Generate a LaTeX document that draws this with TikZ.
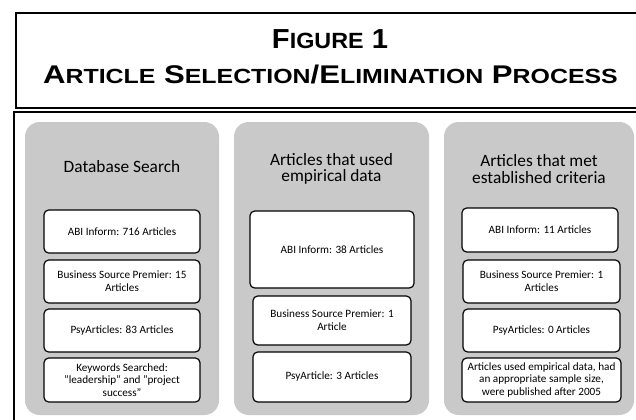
\documentclass[tikz,border=0pt]{standalone}
\usepackage{fontspec}
\usepackage{graphicx}
\setmainfont{Carlito}
\newfontfamily\ttlfont{Liberation Sans}
\definecolor{panelgray}{RGB}{201,201,201}
\newcommand\bigC[1]{{\fontsize{20}{24}\selectfont #1}}
\newcommand\smC[1]{{\fontsize{16}{19}\selectfont #1}}
\tikzset{
  panel/.style={fill=panelgray, draw=none, rounded corners=11pt, inner sep=0pt},
  boxst/.style={draw=black, line width=0.9pt, fill=white, rounded corners=3.5pt,
    inner sep=0pt, align=center, font=\fontsize{8.4}{9.6}\selectfont},
  ptitle/.style={align=center, inner sep=0pt, font=\fontsize{13}{12.3}\selectfont},
  frame/.style={draw=black, line width=1.5pt},
  ttl/.style={inner sep=0pt, anchor=base, font=\ttlfont\bfseries\fontsize{20}{24}\selectfont}
}
\begin{document}
\begin{tikzpicture}[x=0.75pt,y=-0.75pt]
\useasboundingbox (0,0) rectangle (636,419);
\clip (0,0) rectangle (636,419);
% frames
\draw[frame] (16,12.7) rectangle (700,107.5);
\draw[frame] (14,112) rectangle (700,480);
% title
\node[ttl] (t1) at (330,48) {\resizebox{87pt}{14.2pt}{\bigC{F}\smC{IGURE} \bigC{1}}};
\node[ttl] (t2) at (330.5,83) {\resizebox{431pt}{13.9pt}{\bigC{A}\smC{RTICLE} \bigC{S}\smC{ELECTION}/\bigC{E}\smC{LIMINATION} \bigC{P}\smC{ROCESS}}};
% panels
\node[panel, minimum width=194*0.75pt, minimum height=293*0.75pt] (p1) at (122,268.5) {};
\node[panel, minimum width=195*0.75pt, minimum height=293*0.75pt] (p2) at (331.5,268.5) {};
\node[panel, minimum width=190*0.75pt, minimum height=293*0.75pt] (p3) at (539,268.5) {};
% panel titles
\node[ptitle, anchor=base] (p1t) at (122,172) {Database Search};
\node[ptitle] (p2t) at (331.5,169) {Articles that used\\empirical data};
\node[ptitle] (p3t) at (539,169) {Articles that met\\established criteria};
% panel 1 boxes
\node[boxst, minimum width=156*0.75pt, minimum height=43*0.75pt] (a1) at (122,231.5) {ABI Inform: 716 Articles};
\node[boxst, minimum width=156*0.75pt, minimum height=43*0.75pt] (a2) at (122,281.5) {Business Source Premier: 15\\Articles};
\node[boxst, minimum width=156*0.75pt, minimum height=43*0.75pt] (a3) at (122,330.5) {PsyArticles: 83 Articles};
\node[boxst, minimum width=156*0.75pt, minimum height=44*0.75pt] (a4) at (122,380) {Keywords Searched:\\"leadership" and "project\\success"};
% panel 2 boxes
\node[boxst, minimum width=164*0.75pt, minimum height=77*0.75pt] (b1) at (332,249.5) {ABI Inform: 38 Articles};
\node[boxst, minimum width=158*0.75pt, minimum height=49*0.75pt] (b2) at (332,320.5) {Business Source Premier: 1\\Article};
\node[boxst, minimum width=158*0.75pt, minimum height=50*0.75pt] (b3) at (332,377) {PsyArticle: 3 Articles};
% panel 3 boxes
\node[boxst, minimum width=156*0.75pt, minimum height=44*0.75pt] (c1) at (540,230) {ABI Inform: 11 Articles};
\node[boxst, minimum width=157*0.75pt, minimum height=43*0.75pt] (c2) at (541.5,281.5) {Business Source Premier: 1\\Articles};
\node[boxst, minimum width=157*0.75pt, minimum height=43*0.75pt] (c3) at (541.5,330.5) {PsyArticles: 0 Articles};
\node[boxst, minimum width=159*0.75pt, minimum height=44*0.75pt] (c4) at (541.5,380) {Articles used empirical data, had\\an appropriate sample size,\\were published after 2005};
\end{tikzpicture}
\end{document}
